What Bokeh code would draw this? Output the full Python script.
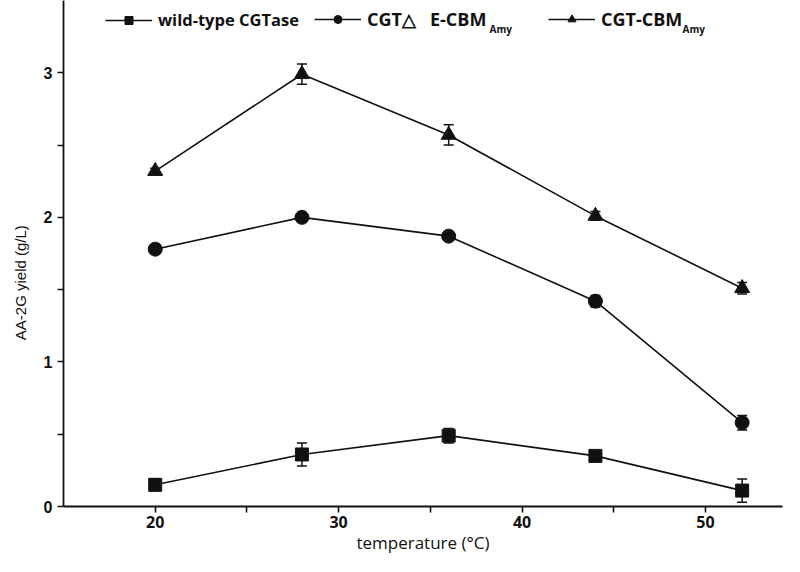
import numpy as np
from bokeh.plotting import figure
from bokeh.models import (ColumnDataSource, Whisker, TeeHead, FixedTicker, Legend,
                          LegendItem, Range1d, Label)
from bokeh.embed import file_html
from bokeh.resources import INLINE

temperature = [20, 28, 36, 44, 52]
wild_type = [0.15, 0.36, 0.49, 0.35, 0.11]
wild_type_err = [0.04, 0.08, 0.05, 0.02, 0.08]
cgt_delta = [1.78, 2.00, 1.87, 1.42, 0.58]
cgt_delta_err = [0.03, 0.01, 0.02, 0.04, 0.05]
cgt_cbm = [2.32, 2.99, 2.57, 2.01, 1.51]
cgt_cbm_err = [0.02, 0.07, 0.07, 0.03, 0.04]

x_ticks = [20, 30, 40, 50]
x_minor = [25, 35, 45, 55]
y_ticks = [0, 1, 2, 3]
y_minor = [0.5, 1.5, 2.5]

W, H = 784, 556
LEFT, BOTTOM, RIGHT = 63, 45, 2
frame_h = H - BOTTOM

p = figure(width=W, height=H, output_backend="svg", toolbar_location=None,
           x_range=Range1d(15, 54.2), y_range=Range1d(0, frame_h / 146.0),
           min_border_left=LEFT, min_border_right=RIGHT, min_border_top=0,
           min_border_bottom=BOTTOM)
p.outline_line_color = None
p.grid.visible = False

ink = "#111111"
series = [
    ("wild-type CGTase", wild_type, wild_type_err, "square", 13, 42, "16.5px"),
    ("CGT\u25b3   E-CBM", cgt_delta, cgt_delta_err, "circle", 14, 251, "18px"),
    ("CGT-CBM", cgt_cbm, cgt_cbm_err, "triangle", 15, 485, "18px"),
]
for name, vals, errs, marker, size, lx, fs in series:
    v = np.array(vals)
    e = np.array(errs)
    src = ColumnDataSource(dict(x=temperature, y=vals, upper=v + e, lower=v - e))
    w = Whisker(source=src, base="x", upper="upper", lower="lower",
                line_color=ink, line_width=1.5,
                upper_head=TeeHead(size=10, line_color=ink, line_width=1.5),
                lower_head=TeeHead(size=10, line_color=ink, line_width=1.5))
    p.add_layout(w)
    l = p.line("x", "y", source=src, line_color=ink, line_width=1.6)
    s = p.scatter("x", "y", source=src, marker=marker, size=size,
                  fill_color=ink, line_color=ink)
    leg = Legend(items=[LegendItem(label=name, renderers=[l, s])],
                 location=(lx, frame_h - 36),
                 glyph_width=47, glyph_height=20, label_height=20,
                 label_text_font="Open Sans", label_text_font_style="bold",
                 label_text_font_size=fs, label_text_color=ink,
                 padding=0, margin=0, spacing=0, label_standoff=6,
                 border_line_color=None, background_fill_alpha=0)
    p.add_layout(leg, "center")

for sx in (426, 619):
    p.add_layout(Label(x=sx, y=frame_h - 40, x_units="screen", y_units="screen",
                       text="Amy", text_baseline="bottom",
                       text_font="Open Sans", text_font_style="bold",
                       text_font_size="10px", text_color=ink))

for ax in (p.xaxis[0], p.yaxis[0]):
    ax.axis_line_color = ink
    ax.axis_line_width = 1.8
    ax.major_tick_line_color = ink
    ax.minor_tick_line_color = ink
    ax.major_tick_line_width = 1.6
    ax.minor_tick_line_width = 1.6
    ax.major_tick_out = 6
    ax.major_tick_in = 0
    ax.minor_tick_out = 6
    ax.minor_tick_in = 0
    ax.major_label_text_color = ink
    ax.axis_label_text_color = ink
    ax.axis_label_text_font_style = "normal"

p.xaxis.ticker = FixedTicker(ticks=x_ticks, minor_ticks=x_minor)
p.yaxis.ticker = FixedTicker(ticks=y_ticks, minor_ticks=y_minor)
p.xaxis.major_label_text_font = "Open Sans"
p.xaxis.major_label_text_font_size = "16px"
p.xaxis.major_label_text_font_style = "bold"
p.xaxis.major_label_standoff = 3
p.yaxis.major_label_text_font = "Liberation Sans"
p.yaxis.major_label_text_font_size = "16px"
p.yaxis.major_label_text_font_style = "bold"
p.xaxis.axis_label = "temperature (\u00b0C)"
p.xaxis.axis_label_text_font = "Open Sans"
p.xaxis.axis_label_text_font_size = "17px"
p.xaxis.axis_label_standoff = 0

p.yaxis.axis_label = "AA-2G yield (g/L)" + "\u00a0" * 14
p.yaxis.axis_label_text_font = "Liberation Sans"
p.yaxis.axis_label_text_font_size = "15px"
p.yaxis.axis_label_standoff = 12

open("out.html", "w").write(file_html(p, INLINE))
